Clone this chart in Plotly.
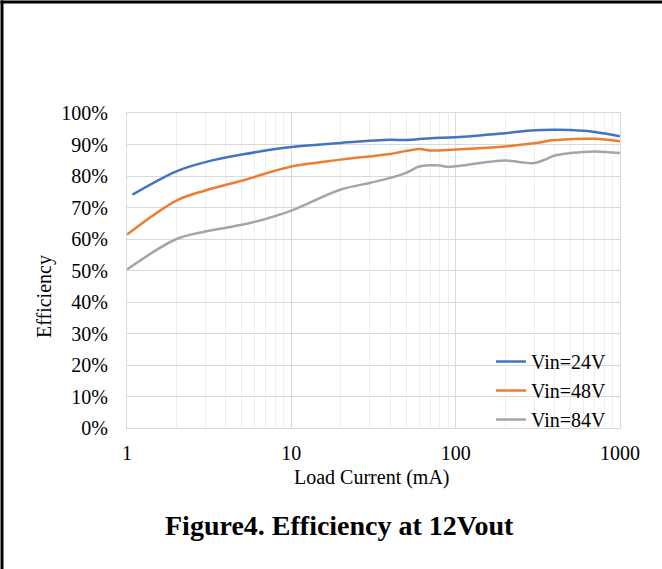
import plotly.graph_objects as go

# Load current (mA) and efficiency (%) for each input voltage
current_24 = [1.08, 2, 3, 5, 10, 20, 40, 50, 70, 100, 200, 300, 400, 500, 700, 1000]
eff_24 = [74.1, 81.5, 84.4, 86.8, 89.2, 90.5, 91.5, 91.4, 92.0, 92.3, 93.6, 94.5, 94.7, 94.6, 94.0, 92.6]

current_48 = [1, 2, 3, 5, 10, 20, 40, 60, 70, 100, 200, 300, 400, 500, 700, 1000]
eff_48 = [61.4, 72.2, 75.4, 78.5, 83.0, 85.2, 87.0, 88.6, 88.1, 88.4, 89.4, 90.4, 91.4, 91.7, 91.8, 91.0]

current_84 = [1, 2, 3, 5, 7, 10, 20, 30, 40, 50, 60, 70, 80, 90, 100, 200, 250, 300, 350, 400, 500, 700, 1000]
eff_84 = [50.3, 60.0, 62.4, 64.5, 66.4, 69.0, 75.7, 77.8, 79.4, 81.0, 83.0, 83.4, 83.3, 82.9, 83.1,
          84.9, 84.4, 84.1, 85.2, 86.5, 87.3, 87.8, 87.3]

series_names = ["Vin=24V", "Vin=48V", "Vin=84V"]
series_colors = ["#4472C4", "#ED7D31", "#A5A5A5"]

x_ticks = [1, 10, 100, 1000]
y_ticks = list(range(0, 101, 10))
minor_x = [m * d for d in (1, 10, 100) for m in range(2, 10)]

FONT = "'Liberation Serif', 'Times New Roman', serif"

fig = go.Figure()
for xs, ys, name, color in zip(
    [current_24, current_48, current_84],
    [eff_24, eff_48, eff_84],
    series_names,
    series_colors,
):
    fig.add_trace(go.Scatter(
        x=xs, y=ys, name=name, mode="lines",
        line=dict(color=color, width=2.5, shape="spline", smoothing=1.0),
    ))

L, R, T, B = 127, 42, 113, 141
W, H = 662, 569
pw, ph = W - L - R, H - T - B


def px_x(p):
    return (p - L) / pw


def px_y(p):
    return (H - B - p) / ph


fig.update_layout(
    width=W, height=H,
    margin=dict(l=L, r=R, t=T, b=B),
    paper_bgcolor="white", plot_bgcolor="white",
    font=dict(family=FONT, size=19, color="#000000"),
    showlegend=True,
    legend=dict(
        x=px_x(612), y=px_y(439), xanchor="right", yanchor="bottom",
        bgcolor="rgba(0,0,0,0)", font=dict(family=FONT, size=20, color="#000000"),
        itemwidth=30, tracegroupgap=0,
    ),
    xaxis=dict(
        type="log", range=[0, 3],
        tickvals=x_ticks, ticktext=[str(v) for v in x_ticks],
        showgrid=True, gridcolor="#D9D9D9", gridwidth=1,
        minor=dict(tickvals=minor_x, showgrid=True, gridcolor="#EFEFEF", gridwidth=1, ticks=""),
        showline=True, linecolor="#D9D9D9", linewidth=1, mirror=True,
        ticks="outside", ticklen=7, tickcolor="rgba(0,0,0,0)",
        tickfont=dict(family=FONT, size=20, color="#000000"),
        zeroline=False,
    ),
    yaxis=dict(
        range=[0, 100],
        tickvals=y_ticks, ticktext=[f"{v}%" for v in y_ticks],
        showgrid=True, gridcolor="#D9D9D9", gridwidth=1,
        showline=True, linecolor="#D9D9D9", linewidth=1, mirror=True,
        ticks="outside", ticklen=14, tickcolor="rgba(0,0,0,0)",
        tickfont=dict(family=FONT, size=20, color="#000000"),
        zeroline=False,
    ),
    annotations=[
        dict(text="Load Current (mA)", xref="paper", yref="paper",
             x=px_x(372), y=px_y(478), xanchor="center", yanchor="middle",
             showarrow=False, font=dict(family=FONT, size=20, color="#000000")),
        dict(text="Efficiency", xref="paper", yref="paper", textangle=-90,
             x=px_x(44), y=px_y(297), xanchor="center", yanchor="middle",
             showarrow=False, font=dict(family=FONT, size=20, color="#000000")),
        dict(text="<b>Figure4. Efficiency at 12Vout</b>", xref="paper", yref="paper",
             x=px_x(339), y=px_y(525), xanchor="center", yanchor="middle",
             showarrow=False, font=dict(family=FONT, size=28, color="#000000")),
    ],
    shapes=[
        dict(type="line", xref="paper", yref="paper",
             x0=px_x(2), x1=px_x(2), y0=px_y(H + 5), y1=px_y(0.5),
             line=dict(color="black", width=3)),
        dict(type="line", xref="paper", yref="paper",
             x0=px_x(0.5), x1=px_x(W + 5), y0=px_y(2), y1=px_y(2),
             line=dict(color="black", width=3)),
    ],
)

fig.write_html("out.html")
